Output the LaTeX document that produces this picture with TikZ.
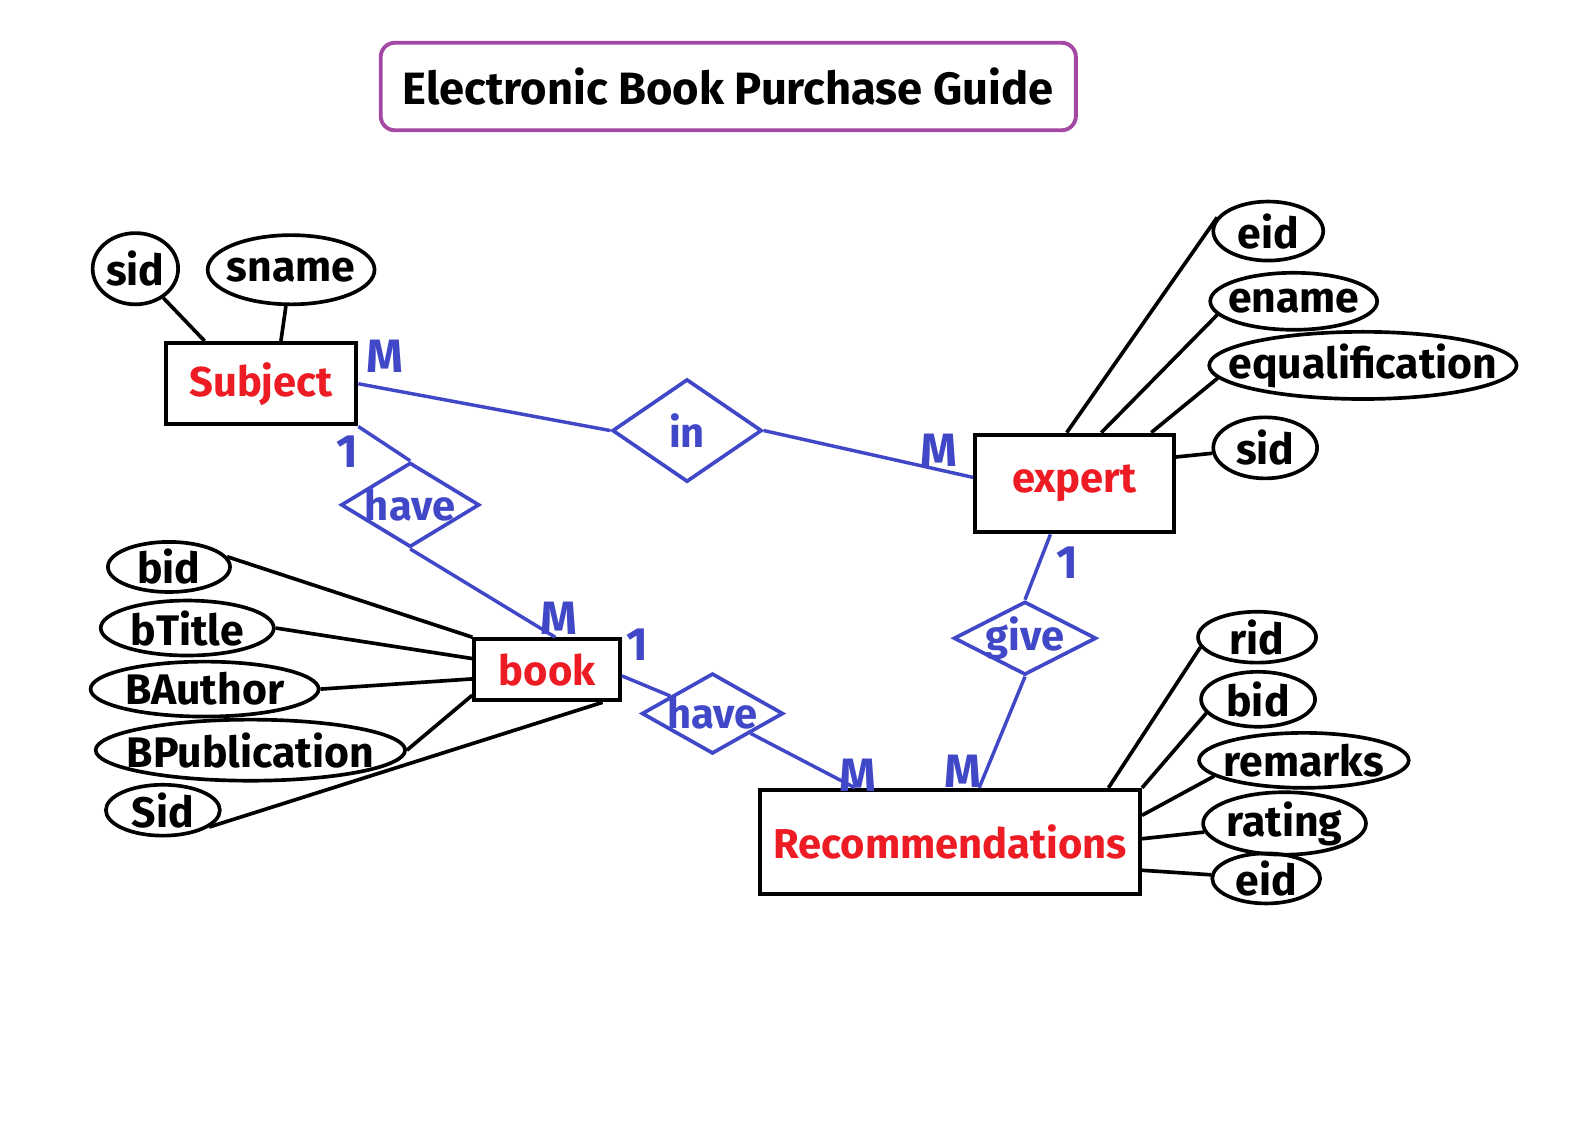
\documentclass[tikz,border=0pt]{standalone}
\usepackage{fontspec}
\setmainfont{Fira Sans}
\usetikzlibrary{shapes.geometric,calc}
\definecolor{erblue}{RGB}{65,72,200}
\definecolor{erred}{RGB}{237,28,36}
\definecolor{erpurple}{RGB}{163,73,164}
\newcommand{\zw}[1]{\makebox[0pt]{#1}}
\begin{document}
\begin{tikzpicture}[x=1pt,y=-1pt,
  attr/.style={ellipse, draw=black, line width=3.6pt, inner sep=0pt, font=\bfseries\fontsize{42}{44}\selectfont},
  entity/.style={rectangle, draw=black, line width=4pt, inner sep=0pt, text=erred, font=\bfseries\fontsize{41}{44}\selectfont},
  rel/.style={diamond, draw=erblue, line width=3.6pt, inner sep=0pt, text=erblue, font=\bfseries\fontsize{41}{44}\selectfont},
  card/.style={text=erblue, inner sep=0pt, font=\bfseries\fontsize{46}{48}\selectfont},
  bl/.style={line width=3.6pt, draw=black},
  bu/.style={line width=3.4pt, draw=erblue}]
\useasboundingbox[fill=white] (0,0) rectangle (1568,1106);

% title
\node[draw=erpurple, line width=3.8pt, rounded corners=14pt, minimum width=683pt, minimum height=86pt, inner sep=0pt,
  font=\bfseries\fontsize{44.5}{46}\selectfont] (title) at (715.5,85) {Electronic Book Purchase Guide};

% entities
\node[entity, minimum width=187pt, minimum height=80pt] (subject) at (256.5,377) {\raisebox{6pt}{Subject}};
\node[entity, minimum width=195pt, minimum height=96pt] (expert) at (1055.5,475) {expert};
\node[entity, minimum width=143pt, minimum height=60pt] (book) at (537.5,658) {book};
\node[entity, minimum width=373pt, minimum height=102pt] (rec) at (933.5,827) {Recommendations};

% relationships
\node[rel, minimum width=147pt, minimum height=101pt] (in) at (675,423) {\zw{in}};
\node[rel, minimum width=136pt, minimum height=83pt] (have1) at (403,496) {\zw{have}};
\node[rel, minimum width=139pt, minimum height=79pt] (have2) at (700,701) {\zw{have}};
\node[rel, minimum width=140pt, minimum height=72pt] (give) at (1007,627) {\zw{give}};

% attributes
\node[attr, minimum width=84pt, minimum height=70pt] (ssid) at (133,264) {\zw{sid}};
\node[attr, minimum width=164pt, minimum height=68pt] (sname) at (286,265) {\zw{sname}};
\node[attr, minimum width=108pt, minimum height=58pt] (eeid) at (1246,227) {\zw{eid}};
\node[attr, minimum width=164pt, minimum height=56pt] (ename) at (1271,296) {\zw{ename}};
\node[attr, minimum width=302pt, minimum height=66pt] (equal) at (1339,359) {\zw{equalification}};
\node[attr, minimum width=102pt, minimum height=60pt] (esid) at (1243,440) {\zw{sid}};
\node[attr, minimum width=120pt, minimum height=46pt] (bbid) at (166,557) {\zw{bid}};
\node[attr, minimum width=170pt, minimum height=54pt] (btitle) at (184,617) {\zw{bTitle}};
\node[attr, minimum width=224pt, minimum height=54pt] (bauthor) at (201,677) {\zw{BAuthor}};
\node[attr, minimum width=304pt, minimum height=60pt] (bpub) at (246,737) {\zw{BPublication}};
\node[attr, minimum width=112pt, minimum height=50pt] (bsid) at (160,796) {\zw{Sid}};
\node[attr, minimum width=116pt, minimum height=50pt] (rrid) at (1235,626) {\zw{rid}};
\node[attr, minimum width=112pt, minimum height=54pt] (rbid) at (1236,687) {\zw{bid}};
\node[attr, minimum width=206pt, minimum height=54pt] (rremarks) at (1281,747) {\zw{remarks}};
\node[attr, minimum width=160pt, minimum height=54pt] (rrating) at (1262,809) {\zw{rating}};
\node[attr, minimum width=106pt, minimum height=46pt] (reid) at (1244,863) {\zw{eid}};

% cardinalities
\node[card] (c1) at (378,350) {M};
\node[card] (c2) at (922,442) {M};
\node[card] (c3) at (341,444) {1};
\node[card] (c4) at (549,607) {M};
\node[card] (c5) at (626,633) {1};
\node[card] (c6) at (843,762) {M};
\node[card] (c7) at (946,758) {M};
\node[card] (c8) at (1049,553) {1};

% relationship connectors
\draw[bu] (subject.east) -- (in.west);
\draw[bu] (in.east) -- ([yshift=6pt]expert.west);
\draw[bu] (subject.south east) -- (have1.north);
\draw[bu] (have1.south) -- ([xshift=8pt]book.north);
\draw[bu] ([yshift=-6pt]book.east) -- (have2);
\draw[bu] (have2) -- ([xshift=-93.5pt]rec.north);
\draw[bu] ([xshift=-23.5pt]expert.south) -- (give.north);
\draw[bu] (give.south) -- ([xshift=28.5pt]rec.north);

% attribute connectors
\draw[bl] (ssid) -- ([xshift=40pt]subject.north west);
\draw[bl] (sname) -- ([xshift=115pt]subject.north west);
\draw[bl] ([xshift=-7.5pt]expert.north) -- (eeid.165);
\draw[bl] ([xshift=26.5pt]expert.north) -- (ename.190);
\draw[bl] ([xshift=75.5pt]expert.north) -- (equal.185);
\draw[bl] ([yshift=26pt]expert.east) -- (esid);
\draw[bl] (bbid.10) -- (book.north west);
\draw[bl] (btitle.east) -- ([yshift=11pt]book.west);
\draw[bl] (bauthor.east) -- ([yshift=-9pt]book.west);
\draw[bl] (bpub.east) -- ([yshift=-25pt]book.west);
\draw[bl] (bsid.-20) -- ([xshift=-19pt]book.south east);
\draw[bl] ([xshift=-33pt]rec.north east) -- (rrid.190);
\draw[bl] (rec.north east) -- (rbid.195);
\draw[bl] ([yshift=-27pt]rec.north east) -- (rremarks.190);
\draw[bl] ([yshift=3pt]rec.east) -- (rrating);
\draw[bl] ([yshift=-28pt]rec.east) -- (reid);
\end{tikzpicture}
\end{document}
